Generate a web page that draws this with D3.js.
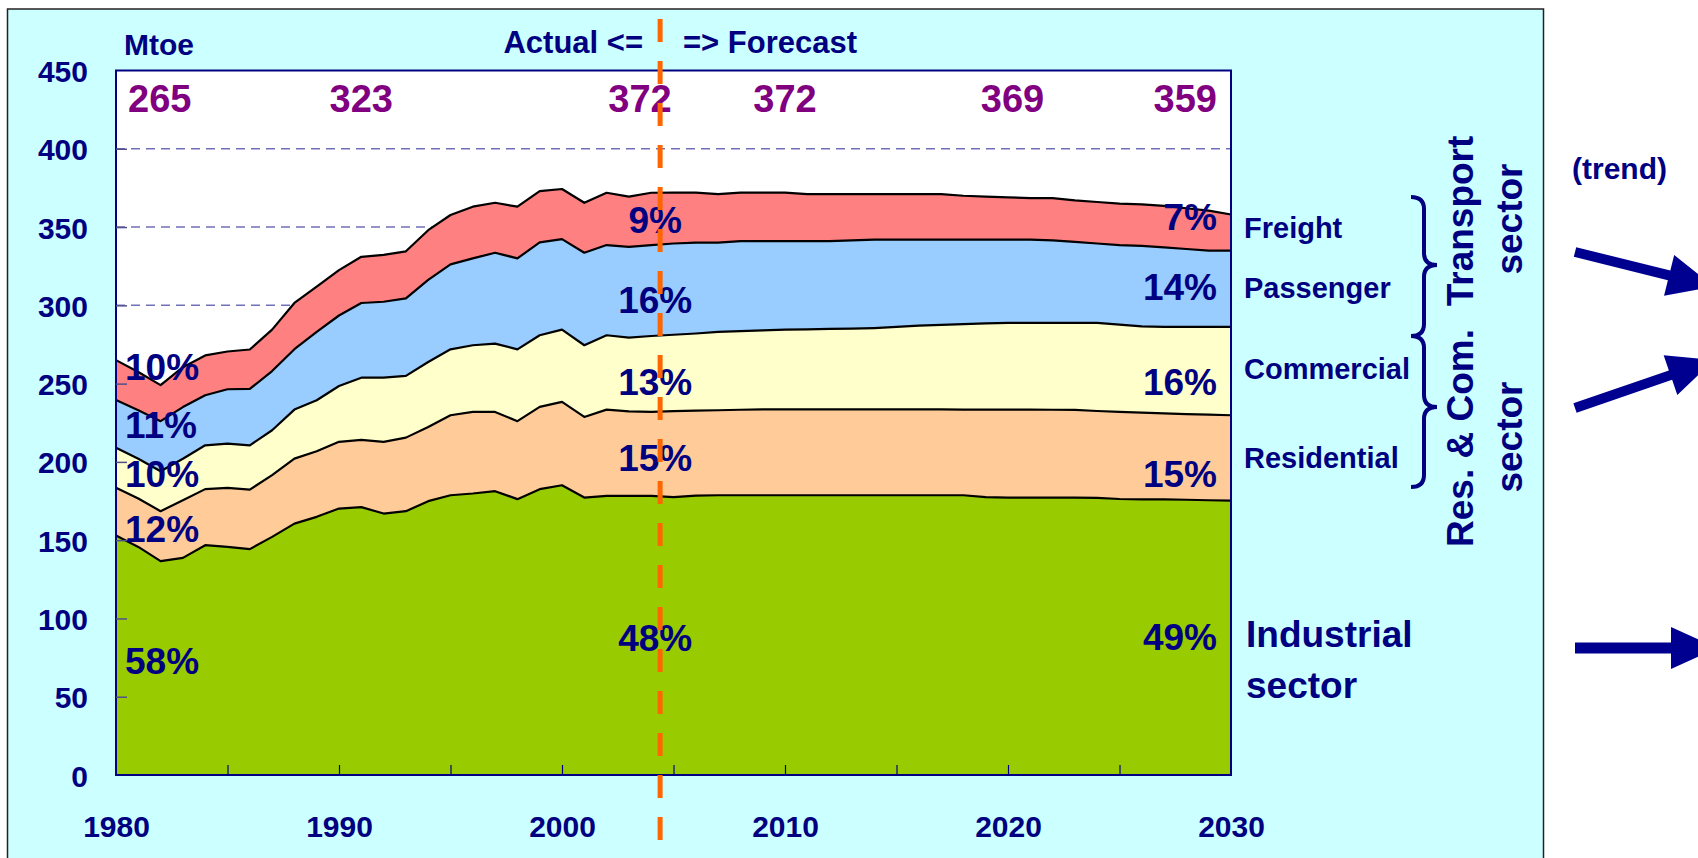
<!DOCTYPE html>
<html><head><meta charset="utf-8">
<script src="https://cdn.jsdelivr.net/npm/d3@7/dist/d3.min.js"></script>
<style>
html,body{margin:0;padding:0;background:#fff;overflow:hidden}
text{font-family:"Liberation Sans",Arial,Helvetica,sans-serif;font-weight:bold}
</style></head><body>
<svg id="chart" width="1698" height="858"></svg>
<script>
// ---------- DATA ----------
const years = [1980,1981,1982,1983,1984,1985,1986,1987,1988,1989,1990,1991,1992,1993,1994,1995,1996,1997,1998,1999,2000,2001,2002,2003,2004,2005,2006,2007,2008,2009,2010,2011,2012,2013,2014,2015,2016,2017,2018,2019,2020,2021,2022,2023,2024,2025,2026,2027,2028,2029,2030];
const industrial = [153,145.7,136.6,138.7,146.8,145.7,144.3,152.1,160.6,164.9,170.2,171.1,167,168.5,174.9,178.7,179.8,181.3,176.2,182.6,185.1,177.2,178.3,178.3,178.3,177.5,178.5,178.7,178.7,178.7,178.7,178.7,178.7,178.7,178.7,178.7,178.7,178.7,178.7,177.5,177.2,177.2,177.2,177.2,177,176.3,176,176,175.8,175.5,175.2];
const residential = [30.5,30.9,31.9,36.8,35.8,37.7,38,39.4,41.5,41.9,42.6,42.9,45.8,47,47.4,51.1,52.1,50.6,49.8,52.5,53.2,51.5,55.1,54,53.7,54.9,54.3,54.3,54.6,54.8,54.8,54.9,54.9,54.9,54.8,54.8,54.8,54.8,54.7,55.9,56.2,56.2,56.1,56,55.5,55.7,55.5,55,54.7,54.7,54.6];
const commercial = [25.5,25.4,25.5,26.5,28,28.3,28.3,28.7,31.3,32.6,35.7,39.8,41,39.4,41.5,42.1,42.6,43.6,45.9,45.8,46.2,45.8,47.5,47.1,48.4,48.8,49.2,50,50.2,50.5,51,51.1,51.4,51.5,52,52.7,53.5,54,54.6,55.1,55.4,55.4,55.5,55.6,56.3,55.7,55.1,55.2,55.7,56,56.4];
const passenger = [30.5,31,32,33,32,34.7,36,37.8,38.6,43.6,45,47.7,48.5,49.6,52.4,54.3,55.5,58.1,58.1,59.3,57.8,59.1,57.6,58,58.1,58.3,58,57,57.5,57,56.5,56.3,56,56.4,56.5,55.8,55,54.5,54,53.5,53.2,53.2,52.7,51.7,50.7,50.8,51.4,50.8,49.8,48.8,48.8];
const freight = [25.5,24.4,23,25.5,25.4,24.1,25.2,26.5,29.5,29,29,29.5,29.9,30,31.8,31.5,33,31.9,33,32.8,32,31.9,33.4,32,33.4,32.5,32,31,31,31,31,30,30,29.5,29,29,29,29,28,27.5,27,26.5,27,26.5,26.5,26.5,26.5,26.5,26,25.5,23];

const seriesKeys = ["industrial","residential","commercial","passenger","freight"];
const seriesNames = ["Industrial","Residential","Commercial","Passenger","Freight"];
const seriesColors = ["#99CC00","#FFCC99","#FFFFCC","#99CCFF","#FF8080"];

const yTicks = [0,50,100,150,200,250,300,350,400,450];
const xTicks = [1980,1985,1990,1995,2000,2005,2010,2015,2020,2025,2030];
const xLabels = [1980,1990,2000,2010,2020,2030];

const totalLabels = [265,323,372,372,369,359];
const totalYears = [1980,1990,2004,2010,2020,2030];

const pctYears = [1980,2004,2030];
const pctIndustrial = [58,48,49];
const pctResidential = [12,15,15];
const pctCommercial = [10,13,16];
const pctPassenger = [11,16,14];
const pctFreight = [10,9,7];

const forecastStart = 2004.4;

// ---------- LAYOUT ----------
const svg = d3.select("#chart");
const W = 1698, H = 858;
const navy = "#000080", purple = "#800080", arrowCol = "#000090";
const x = d3.scaleLinear().domain([1980,2030]).range([116,1231]);
const y = d3.scaleLinear().domain([0,450]).range([775,70.5]);

// panel
svg.append("rect").attr("x",0).attr("y",0).attr("width",W).attr("height",H).attr("fill","#fff");
svg.append("rect").attr("x",7.5).attr("y",9).attr("width",1536).attr("height",900)
  .attr("fill","#CCFFFF").attr("stroke","#222").attr("stroke-width",1.5);

// plot bg
svg.append("rect").attr("x",x(1980)).attr("y",y(450)).attr("width",x(2030)-x(1980)).attr("height",y(0)-y(450)).attr("fill","#fff");

// gridlines
svg.append("g").selectAll("line").data(yTicks.filter(d=>d>0&&d<450)).join("line")
  .attr("x1",x(1980)).attr("x2",x(2030)).attr("y1",d=>y(d)).attr("y2",d=>y(d))
  .attr("stroke","#7070B8").attr("stroke-width",1.5).attr("stroke-dasharray","9 6");

// stacked areas
const table = years.map((yr,i)=>({year:yr, industrial:industrial[i], residential:residential[i], commercial:commercial[i], passenger:passenger[i], freight:freight[i]}));
const stacked = d3.stack().keys(seriesKeys)(table);
const area = d3.area().x(d=>x(d.data.year)).y0(d=>y(d[0])).y1(d=>y(d[1]));
const topLine = d3.line().x(d=>x(d.data.year)).y(d=>y(d[1]));
svg.append("g").selectAll("path").data(stacked).join("path")
  .attr("d",area).attr("fill",(d,i)=>seriesColors[i]);
svg.append("g").selectAll("path").data(stacked).join("path")
  .attr("d",topLine).attr("fill","none").attr("stroke","#000").attr("stroke-width",2.2).attr("stroke-linejoin","round");

// border
svg.append("rect").attr("x",x(1980)).attr("y",y(450)).attr("width",x(2030)-x(1980)).attr("height",y(0)-y(450))
  .attr("fill","none").attr("stroke",navy).attr("stroke-width",2);

// y axis
const yAxis = d3.axisLeft(y).tickValues(yTicks).tickSizeInner(-11).tickSizeOuter(0).tickPadding(28);
const gy = svg.append("g").attr("transform",`translate(${x(1980)},0)`).call(yAxis);
gy.select(".domain").remove();
gy.selectAll(".tick line").attr("stroke","#50508a").attr("stroke-width",1.5).filter(d=>d===0||d===450).remove();
gy.selectAll(".tick text").attr("fill",navy).attr("font-size",30).attr("dy",null).attr("y",11)
  .style("font-family",'"Liberation Sans",Arial,sans-serif').style("font-weight","bold");

// x axis
const xAxis = d3.axisBottom(x).tickValues(xTicks).tickSizeInner(-10).tickSizeOuter(0).tickPadding(0)
  .tickFormat(d=>xLabels.includes(d)?String(d):"");
const gx = svg.append("g").attr("transform",`translate(0,${y(0)})`).call(xAxis);
gx.select(".domain").remove();
gx.selectAll(".tick line").attr("stroke",navy).attr("stroke-width",1.2).filter(d=>d===1980||d===2030).remove();
gx.selectAll(".tick text").attr("fill",navy).attr("font-size",30).attr("dy",null).attr("y",62)
  .style("font-family",'"Liberation Sans",Arial,sans-serif').style("font-weight","bold");

// Titles
svg.append("text").attr("x",124).attr("y",55).attr("font-size",30).attr("fill",navy).text("Mtoe");
svg.append("text").attr("x",643).attr("y",53).attr("font-size",31).attr("fill",navy).attr("text-anchor","end").text("Actual <=");
svg.append("text").attr("x",683).attr("y",53).attr("font-size",31).attr("fill",navy).text("=> Forecast");

// totals
const totalPlace = [{dx:0,anchor:"start"},{dx:1,anchor:"middle"},{dx:-0.5,anchor:"middle"},{dx:0,anchor:"middle"},{dx:0.2,anchor:"middle"},{dx:0,anchor:"end"}];
svg.append("g").selectAll("text").data(totalLabels).join("text")
  .attr("x",(d,i)=> i===0 ? x(totalYears[i])+12 : i===5 ? x(totalYears[i])-14 : x(totalYears[i]+totalPlace[i].dx))
  .attr("y",112).attr("text-anchor",(d,i)=>totalPlace[i].anchor)
  .attr("font-size",38).attr("fill",purple).text(d=>d);

// percentage labels
const pctSeries = [pctIndustrial,pctResidential,pctCommercial,pctPassenger,pctFreight];
const pctBaselines = [
  [674,542,487,438,380],   // 1980 column (industrial..freight)
  [651,471,395,313,233],   // 2004 column
  [650,487,395,300,230]    // 2030 column
];
pctYears.forEach((yr,c)=>{
  const anchor = c===0?"start":c===1?"middle":"end";
  const px = c===0 ? x(yr)+9 : c===1 ? x(yr)+4 : x(yr)-14;
  pctSeries.forEach((arr,s)=>{
    svg.append("text").attr("x",px).attr("y",pctBaselines[c][s]).attr("text-anchor",anchor)
      .attr("font-size",37).attr("fill",navy).text(arr[c]+"%");
  });
});

// sector labels
const sectorBaselines = {Freight:238, Passenger:298, Commercial:379, Residential:468};
["Freight","Passenger","Commercial","Residential"].forEach(n=>{
  svg.append("text").attr("x",1244).attr("y",sectorBaselines[n]).attr("font-size",29).attr("fill",navy).text(n);
});
svg.append("text").attr("x",1246).attr("y",647).attr("font-size",37).attr("fill",navy).text("Industrial");
svg.append("text").attr("x",1246).attr("y",698).attr("font-size",37).attr("fill",navy).text("sector");

// braces
function brace(x0,y0,ym,y1,w){
  const xm = x0 + w*0.5, r = 12;
  return `M${x0},${y0} Q${xm},${y0} ${xm},${y0+r} L${xm},${ym-r} Q${xm},${ym} ${x0+w},${ym} Q${xm},${ym} ${xm},${ym+r} L${xm},${y1-r} Q${xm},${y1} ${x0},${y1}`;
}
svg.append("path").attr("d",brace(1411,197,265,336,26)).attr("fill","none").attr("stroke",navy).attr("stroke-width",4);
svg.append("path").attr("d",brace(1411,336,407,487,26)).attr("fill","none").attr("stroke",navy).attr("stroke-width",4);

// rotated group labels
function rot(txt,bx,cy){
  svg.append("text").attr("transform",`translate(${bx},${cy}) rotate(-90)`).attr("text-anchor","middle")
    .attr("font-size",37).attr("fill",navy).text(txt);
}
rot("Transport",1473,221);
rot("sector",1522,219);
rot("Res. & Com.",1473,438);
rot("sector",1522,437);

// trend
svg.append("text").attr("x",1572).attr("y",179).attr("font-size",30).attr("fill",navy).text("(trend)");
function arrow(tx,ty,angDeg,shaftLen,headLen,headHalf,shaftW){
  const a = angDeg*Math.PI/180, c=Math.cos(a), s=Math.sin(a);
  const P = (u,v)=>[tx + u*c - v*s, ty + u*s + v*c];
  const pts = [P(0,-shaftW/2),P(shaftLen,-shaftW/2),P(shaftLen,-headHalf),P(shaftLen+headLen,0),P(shaftLen,headHalf),P(shaftLen,shaftW/2),P(0,shaftW/2)];
  svg.append("path").attr("d","M"+pts.map(p=>p.join(",")).join("L")+"Z").attr("fill",arrowCol);
}
arrow(1575,252,14,97,46,21,10);
arrow(1575,408,-19,101,46,21,10);
arrow(1575,648,0,96,46,21,11);

// forecast divider
svg.append("line").attr("x1",x(forecastStart)).attr("x2",x(forecastStart)).attr("y1",19).attr("y2",H)
  .attr("stroke","#FF6600").attr("stroke-width",5).attr("stroke-dasharray","23 19");
</script>
</body></html>
